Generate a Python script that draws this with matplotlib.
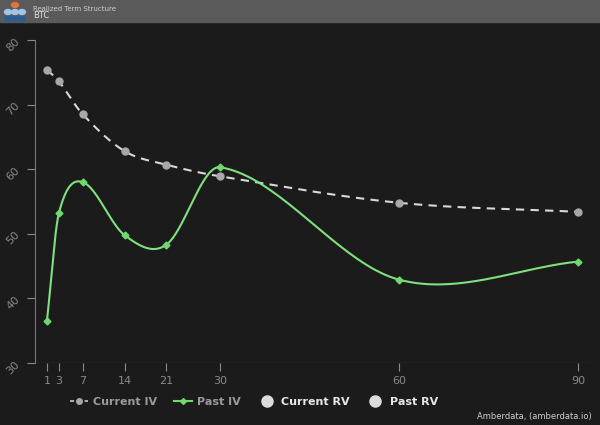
import numpy as np
import matplotlib
matplotlib.use("Agg")
import matplotlib.pyplot as plt
from matplotlib.lines import Line2D

days = [1, 3, 7, 14, 21, 30, 60, 90]
current_iv = [75.4, 73.6, 68.5, 62.8, 60.7, 58.9, 54.8, 53.4]
past_iv = [36.5, 53.2, 58.0, 49.8, 48.3, 60.3, 42.9, 45.7]

def smooth(x, y, n=40):
    x = np.asarray(x, float); y = np.asarray(y, float)
    m = np.zeros_like(y)
    m[1:-1] = (y[2:] - y[:-2]) / (x[2:] - x[:-2])
    m[0] = (y[1] - y[0]) / (x[1] - x[0]); m[-1] = (y[-1] - y[-2]) / (x[-1] - x[-2])
    xs, ys = [], []
    for i in range(len(x) - 1):
        h = x[i+1] - x[i]
        t = np.linspace(0, 1, n)
        h00 = 2*t**3 - 3*t**2 + 1; h10 = t**3 - 2*t**2 + t
        h01 = -2*t**3 + 3*t**2; h11 = t**3 - t**2
        xs.append(x[i] + t*h)
        ys.append(h00*y[i] + h10*h*m[i] + h01*y[i+1] + h11*h*m[i+1])
    return np.concatenate(xs), np.concatenate(ys)

bg = "#1b1b1b"
fig = plt.figure(figsize=(6, 4.25), dpi=100, facecolor=bg)
# header
fig.patches.append(plt.Rectangle((0, 1-22/425), 1, 22/425, transform=fig.transFigure, color="#5a5a5a", zorder=0))
fig.text(33/600, 1-9/425, "Realized Term Structure", color="#cfcfcf", fontsize=5, va="center")
fig.text(33/600, 1-16/425, "BTC", color="#e0e0e0", fontsize=6, va="center")
for cx, cy, c in [(15, 5, "#e8733a"), (8, 12, "#9cc6ea"), (15, 12, "#9cc6ea"), (22, 12, "#9cc6ea"), (8, 19, "#2c5a95"), (15, 19, "#2c5a95"), (22, 19, "#2c5a95")]:
    fig.patches.append(plt.Circle((cx/600, 1-cy/425), 3.5/600, transform=fig.transFigure, color=c, zorder=2))

ax = fig.add_axes([35/600, 1-363/425, 555/600, 323/425], facecolor=bg)
ax.set_xlim(-1, 92)
ax.set_ylim(30, 80)
xs, ys = smooth(days, current_iv)
ax.plot(xs, ys, color="#d8d8d8", lw=1.5, ls=(0, (4, 3)))
ax.plot(days, current_iv, "o", color="#a8a8a8", ms=5)
xs, ys = smooth(days, past_iv)
ax.plot(xs, ys, color="#7fe07f", lw=1.5)
ax.plot(days, past_iv, "D", color="#6fd86f", ms=3.5)

ax.set_xticks(days)
ax.set_yticks([30, 40, 50, 60, 70, 80])
ax.tick_params(colors="#8a8a8a", labelsize=8, length=6)
for lab in ax.get_yticklabels():
    lab.set_rotation(45)
for s in ["top", "right", "bottom"]:
    ax.spines[s].set_visible(False)
ax.spines["left"].set_color("#777777")
ax.axhline(30, color="#777777", lw=0.8)

handles = [
    Line2D([], [], color="#a8a8a8", ls=(0, (2, 1.5)), marker="o", ms=4),
    Line2D([], [], color="#6fd86f", marker="D", ms=3),
    Line2D([], [], color="#dcdcdc", marker="o", ms=8, ls=""),
    Line2D([], [], color="#dcdcdc", marker="o", ms=8, ls=""),
]
labels = ["Current IV", "Past IV", "Current RV", "Past RV"]
leg = fig.legend(handles, labels, loc="center left", bbox_to_anchor=(60/600, 1-402/425), ncol=4,
                 frameon=False, fontsize=8, handlelength=1.6, columnspacing=1.5, handletextpad=0.5)
cols = ["#9a9a9a", "#9a9a9a", "#e8e8e8", "#e8e8e8"]
for t, c in zip(leg.get_texts(), cols):
    t.set_color(c); t.set_fontweight("bold")
fig.text(592/600, 1-417/425, "Amberdata, (amberdata.io)", color="#cfcfcf", fontsize=6, ha="right", va="center")
fig.savefig("out.png", dpi=100, facecolor=bg)
